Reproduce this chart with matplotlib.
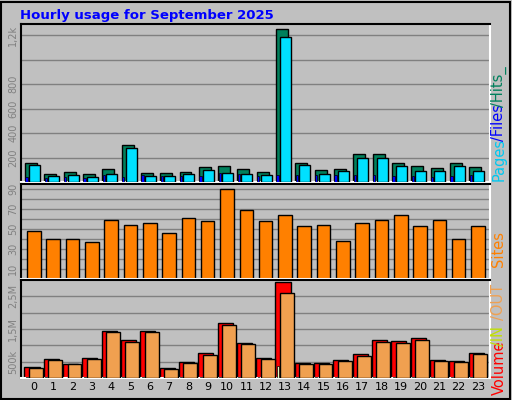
import matplotlib
matplotlib.use("Agg")
import matplotlib.pyplot as plt
import numpy as np

hours = list(range(24))
hits = [159,68,85,68,110,299,77,77,85,126,134,110,85,1252,159,101,110,225,225,159,134,118,159,126]
files = [142,52,60,44,68,274,52,52,68,101,77,68,60,1186,142,68,93,192,192,134,93,93,134,93]
pages = [38,35,44,35,60,44,55,47,52,52,74,66,52,55,55,60,55,60,60,52,52,44,47,55]
sites = [48.5,40,40,37,59,54,56,46,61,58,90,69,58,64,53,54,38,56,59,64,53,59,40,53]
vol_kb = [335,595,443,627,1438,1178,1438,303,497,757,1697,1081,627,2930,465,465,562,724,1178,1146,1211,562,530,757]
out_kb = [303,562,443,595,1405,1114,1405,270,465,692,1632,1049,595,2605,432,432,530,659,1114,1081,1178,530,497,724]
in_kb = [20,20,5,20,20,20,20,5,20,20,20,20,20,380,20,20,20,20,20,20,20,20,20,20]

W, H = 512, 400
fig = plt.figure(figsize=(5.12, 4.0), dpi=100)
fig.patch.set_facecolor('#c0c0c0')
BG = '#c0c0c0'

def ax_px(x0, y0, x1, y1):
    return fig.add_axes([x0/W, 1-y1/H, (x1-x0)/W, (y1-y0)/H])

x = np.array(hours)
XL = (-0.62, 23.67)
ek = dict(edgecolor='black', linewidth=1)

def style(ax, ticks, labels, grid):
    ax.set_facecolor(BG)
    ax.set_xlim(*XL)
    ax.set_xticks([])
    ax.set_yticks(ticks)
    ax.set_yticklabels(labels, rotation=90, va='center', fontsize=7, color='#808080')
    ax.tick_params(axis='y', length=0, pad=2)
    for g in grid:
        ax.axhline(g, color='#808080', linewidth=1, zorder=0)
    for s in ax.spines.values():
        s.set_color('white')
        s.set_linewidth(1.5)
    ax.spines['left'].set_color('black')
    ax.spines['top'].set_color('black')

ax1 = ax_px(21, 24, 490, 182)
ax1.bar(x-0.1, hits, width=0.62, color='#00805c', zorder=2, **ek)
ax1.bar(x+0.08, files, width=0.57, color='#00e0ff', zorder=3, **ek)
ax1.bar(x-0.33, pages, width=0.12, color='#0000ff', zorder=4, edgecolor='black', linewidth=0.5)
ax1.set_ylim(0, 1290)
style(ax1, [200,400,600,800,1200], ['200','400','600','800','1,2k'], range(200, 1300, 200))

ax2 = ax_px(21, 184, 490, 279)
ax2.bar(x+0.05, sites, width=0.7, color='#ff8000', zorder=2, **ek)
ax2.set_ylim(0, 95)
style(ax2, [10,30,50,70,90], ['10','30','50','70','90'], range(10, 100, 10))

ax3 = ax_px(21, 280, 490, 378)
ax3.bar(x-0.05, vol_kb, width=0.78, color='#ff0000', zorder=2, **ek)
ax3.bar(x+0.15, out_kb, width=0.72, color='#f0a050', zorder=3, **ek)
ax3.bar(x-0.32, in_kb, width=0.1, color='#e0ffc0', zorder=4, edgecolor='black', linewidth=0.5)
ax3.set_ylim(0, 3000)
style(ax3, [500,1500,2500], ['500k','1,5M','2,5M'], range(500, 3000, 500))
for h in hours:
    ax3.text(h+0.05, -0.09, str(h), transform=ax3.get_xaxis_transform(), ha='center', va='center', fontsize=8)

fig.text(20/W, 1-15/H, 'Hourly usage for September 2025', color='#0000ff', fontsize=9.5, fontweight='bold', va='center')

def vtext(y, s, c):
    fig.text(499/W, 1-y/H, s, rotation=90, color=c, fontsize=10.5, ha='center', va='bottom')
vtext(181, 'Pages', '#00c8f0')
vtext(141, '/Files', '#0000ff')
vtext(107, '/Hits_', '#00805c')
vtext(267, 'Sites', '#ff8000')
vtext(395, 'Volume', '#ff0000')
vtext(346, '/IN', '#c0e000')
vtext(320, '/OUT', '#f0a050')

fig.add_artist(plt.Rectangle((1/W, 1/H), (W-3)/W, (H-3)/H, transform=fig.transFigure, fill=False, edgecolor='black', linewidth=1.5))

fig.savefig('out.png', dpi=100, facecolor=fig.get_facecolor())
